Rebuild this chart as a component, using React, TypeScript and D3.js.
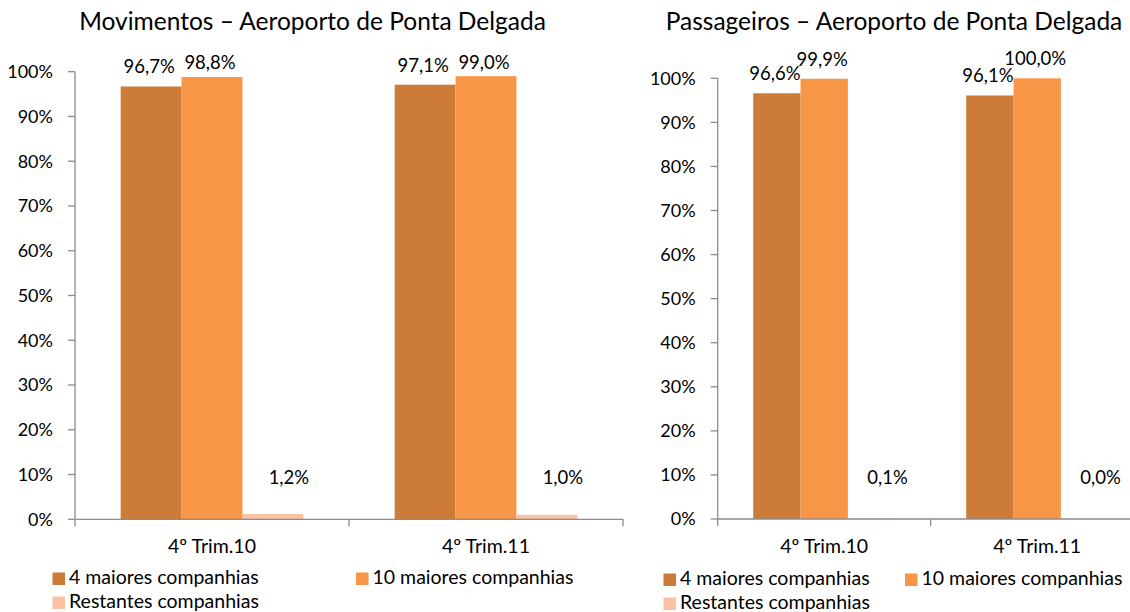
import React from "react";
import * as d3 from "d3";

// Data
const categories = ["4º Trim.10", "4º Trim.11"];
const seriesNames = ["4 maiores companhias", "10 maiores companhias", "Restantes companhias"];
const movimentos = [
  [96.7, 98.8, 1.2],
  [97.1, 99.0, 1.0],
];
const passageiros = [
  [96.6, 99.9, 0.1],
  [96.1, 100.0, 0.0],
];
const yTicks = [0, 10, 20, 30, 40, 50, 60, 70, 80, 90, 100];

const COLORS = ["#CC7B39", "#F79646", "#FAC2A3"];
const AXIS = "#8C8C8C";
const FONT = "Lato, 'Open Sans', sans-serif";

interface PanelProps {
  title: string;
  values: number[][];
  x0: number;
  x1: number;
  yBottom: number;
  yTop: number;
  titleX: number;
  labelMinBaseline: number;
  legend: { x: number[]; y: number; row2: number };
}

const fmt = (v: number) => v.toFixed(1).replace(".", ",") + "%";

function Panel({ title, values, x0, x1, yBottom, yTop, titleX, labelMinBaseline, legend }: PanelProps) {
  const x = d3.scaleBand<string>().domain(categories).range([x0, x1]).padding(0);
  const bw = x.bandwidth();
  const inner = d3.scaleBand<string>().domain(seriesNames).range([bw / 6, (bw * 5) / 6]).padding(0);
  const y = d3.scaleLinear().domain([0, 100]).range([yBottom, yTop]);

  return (
    <g>
      <text x={titleX} y={30} textAnchor="middle" fontSize={24.5} fill="#000">{title}</text>

      {/* bars */}
      {values.map((row, ci) =>
        row.map((v, si) => (
          <rect
            key={`b${ci}-${si}`}
            x={(x(categories[ci]) || 0) + (inner(seriesNames[si]) || 0)}
            y={y(v)}
            width={inner.bandwidth()}
            height={y(0) - y(v)}
            fill={COLORS[si]}
          />
        ))
      )}

      {/* data labels */}
      {values.map((row, ci) =>
        row.map((v, si) => {
          const cx = (x(categories[ci]) || 0) + (inner(seriesNames[si]) || 0) + inner.bandwidth() / 2;
          const small = v < 5;
          const by = small ? y(0) - 35 : Math.max(y(v) - 13, labelMinBaseline);
          return (
            <text key={`l${ci}-${si}`} x={cx + (small ? 16 : -2)} y={by} textAnchor="middle" fontSize={18.5} fill="#000">
              {fmt(v)}
            </text>
          );
        })
      )}

      {/* y axis */}
      <line x1={x0} x2={x0} y1={y(0)} y2={y(100)} stroke={AXIS} strokeWidth={1.3} />
      {yTicks.map(t => (
        <g key={`t${t}`}>
          <line x1={x0 - 7} x2={x0} y1={y(t)} y2={y(t)} stroke={AXIS} strokeWidth={1.3} />
          <text x={x0 - 22} y={y(t)} dy="0.35em" textAnchor="end" fontSize={18} fill="#000">{t}%</text>
        </g>
      ))}

      {/* x axis */}
      <line x1={x0} x2={x1} y1={y(0)} y2={y(0)} stroke={AXIS} strokeWidth={1.3} />
      {[...categories.map(c => x(c) || 0), x1].map((tx, i) => (
        <line key={`xt${i}`} x1={tx} x2={tx} y1={y(0)} y2={y(0) + 7} stroke={AXIS} strokeWidth={1.3} />
      ))}
      {categories.map(c => (
        <text key={c} x={(x(c) || 0) + bw / 2} y={553} textAnchor="middle" fontSize={19.5} fill="#000">{c}</text>
      ))}

      {/* legend */}
      {seriesNames.map((s, i) => {
        const lx = i < 2 ? legend.x[i] : legend.x[0];
        const ly = i < 2 ? legend.y : legend.row2;
        return (
          <g key={s}>
            <rect x={lx} y={ly - 11} width={12.5} height={12.5} fill={COLORS[i]} />
            <text x={lx + 16.5} y={ly} fontSize={19.5} fill="#000">{s}</text>
          </g>
        );
      })}
    </g>
  );
}

export default function App() {
  return (
    <div style={{ position: "absolute", left: 0, top: 0, width: 1130, height: 612, overflow: "hidden", background: "#fff" }}>
      <svg width={1130} height={612} viewBox="0 0 1130 612" style={{ display: "block", fontFamily: FONT }}>
        <rect width={1130} height={612} fill="#fff" />
        <Panel
          title="Movimentos – Aeroporto de Ponta Delgada"
          values={movimentos}
          x0={75}
          x1={623}
          yBottom={519.3}
          yTop={71.7}
          titleX={312.5}
          labelMinBaseline={69}
          legend={{ x: [52.5, 356], y: 583.5, row2: 607.5 }}
        />
        <Panel
          title="Passageiros – Aeroporto de Ponta Delgada"
          values={passageiros}
          x0={717.7}
          x1={1143.7}
          yBottom={519}
          yTop={78.3}
          titleX={894}
          labelMinBaseline={0}
          legend={{ x: [663.5, 905], y: 584.5, row2: 608.5 }}
        />
      </svg>
    </div>
  );
}
